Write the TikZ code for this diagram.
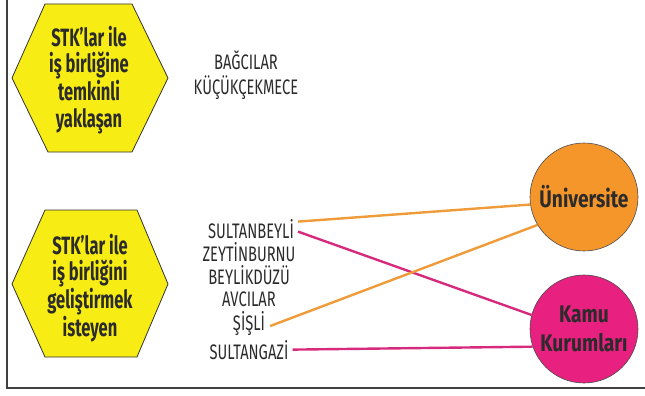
\documentclass[tikz,border=0pt]{standalone}
\usepackage{fontspec}
\newfontfamily\condfont{Fira Sans}[FakeStretch=0.7]
\newfontfamily\hexfont{Fira Sans}[FakeStretch=0.66]
\newfontfamily\bubfont{Fira Sans}[FakeStretch=0.8]
\definecolor{hexyellow}{HTML}{F7EC13}
\definecolor{uniorange}{HTML}{F5962A}
\definecolor{kamupink}{HTML}{E8207F}
\definecolor{lineorange}{HTML}{F09B3A}
\definecolor{linepink}{HTML}{D62A7C}
\definecolor{txtdark}{HTML}{2B2B2B}
\begin{document}
\begin{tikzpicture}[x=1pt,y=-1pt,
  hexshape/.style={fill=hexyellow,draw=black!80,line width=0.8pt,line join=miter},
  hextext/.style={font=\hexfont\bfseries\fontsize{25}{26.5}\selectfont,align=center,text=txtdark,inner sep=0pt},
  place/.style={font=\condfont\fontsize{21}{22}\selectfont,text=txtdark,anchor=base,inner sep=1pt},
  bubble/.style={circle,draw=black!70,line width=0.6pt,minimum size=108pt,inner sep=0pt,align=center,
    font=\bubfont\bfseries\fontsize{24}{29}\selectfont,text=txtdark},
  oline/.style={draw=lineorange,line width=2.4pt},
  pline/.style={draw=linepink,line width=2.4pt}]
\useasboundingbox (0,0) rectangle (645,396);
% frame
\draw[black!75,line width=1.4pt] (7,0) -- (7,388) -- (645,388);
% hexagons
\draw[hexshape] (12,78) -- (45,4) -- (132,4) -- (168,78) -- (132,152) -- (48,152) -- cycle;
\node[hextext] (h1) at (89,80) {STK’lar ile\\iş birliğine\\temkinli\\yaklaşan};
\draw[hexshape] (12,284) -- (45,210) -- (137,210) -- (168,284) -- (137,357) -- (45,357) -- cycle;
\node[hextext] (h2) at (90,288) {STK’lar ile\\iş birliğini\\geliştirmek\\isteyen};
% place names
\node[place] (bag) at (246,70) {BAĞCILAR};
\node[place] (kuc) at (246,94) {KÜÇÜKÇEKMECE};
\node[place] (sb) at (251,238) {SULTANBEYLİ};
\node[place] (zey) at (249,261) {ZEYTİNBURNU};
\node[place] (bey) at (249,284) {BEYLİKDÜZÜ};
\node[place] (avc) at (249,306) {AVCILAR};
\node[place] (sis) at (249,330) {ŞİŞLİ};
\node[place] (sg) at (249,359) {SULTANGAZİ};
% circles
\node[bubble,fill=uniorange] (uni) at (584,197) {Üniversite};
\node[bubble,fill=kamupink] (kamu) at (584,329) {Kamu\\Kurumları};
% connectors
\draw[oline] ([xshift=3pt,yshift=7pt]sb.east) -- (uni.188);
\draw[pline] ([xshift=3pt,yshift=-3pt]sb.east) -- (kamu.165);
\draw[oline] ([xshift=4pt,yshift=-3pt]sis.east) -- (uni.211);
\draw[pline] ([xshift=3pt]sg.east) -- (kamu.199);
\end{tikzpicture}
\end{document}
